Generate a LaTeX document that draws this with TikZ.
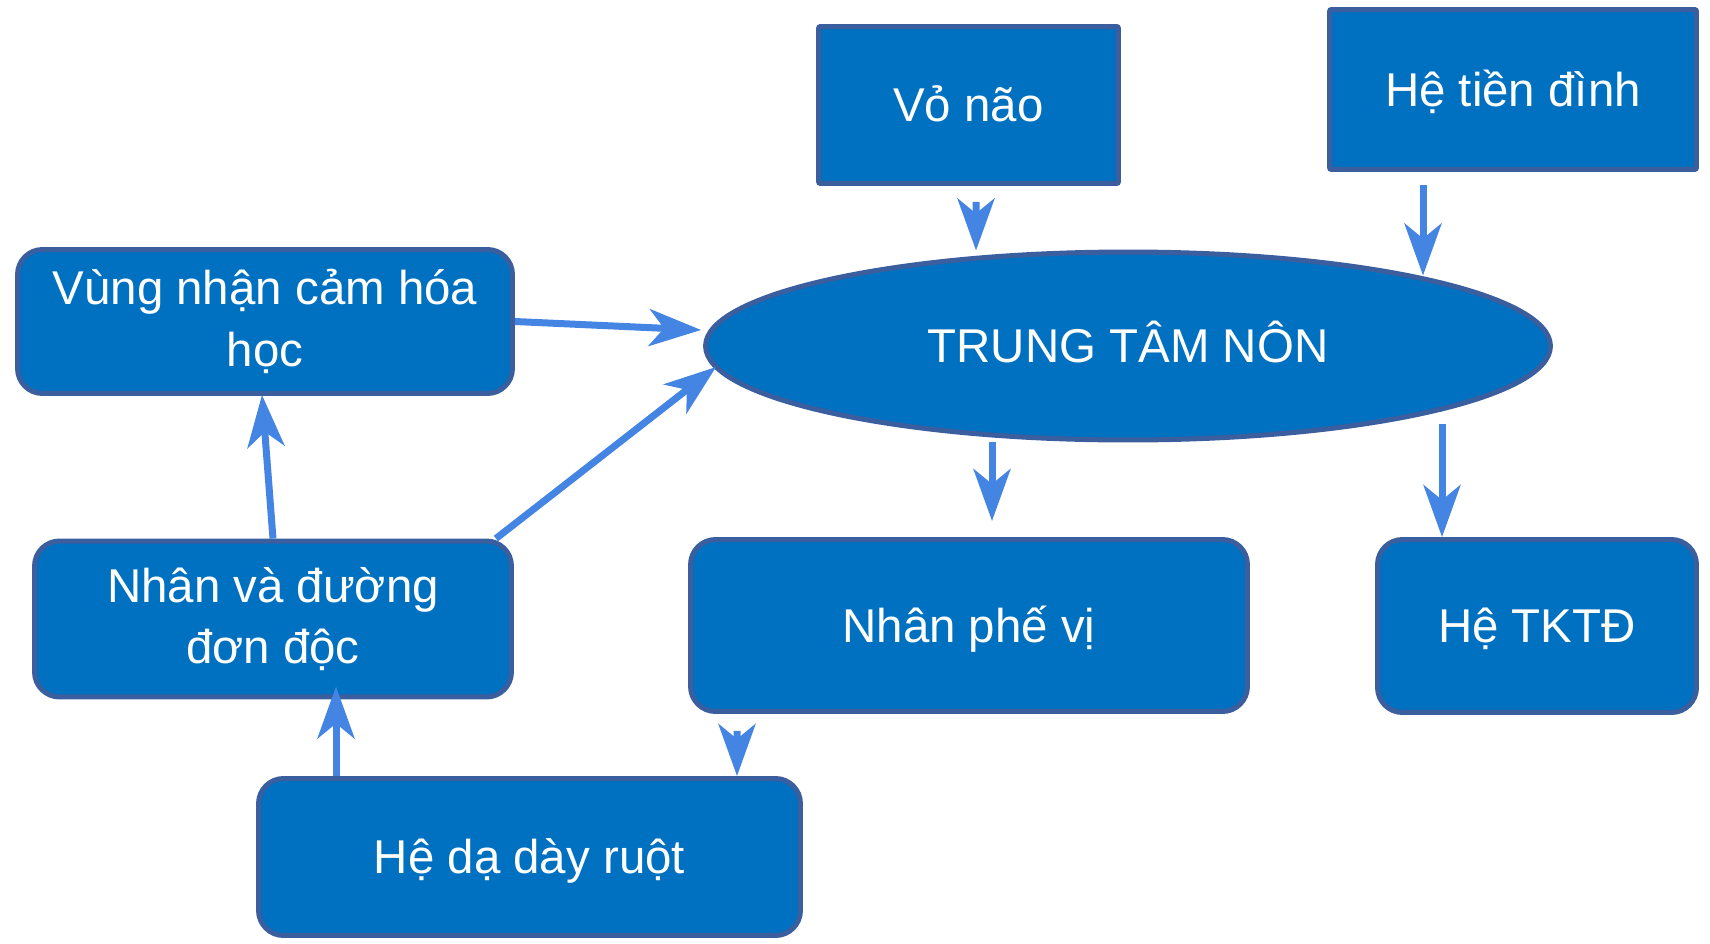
\documentclass[tikz,border=0pt]{standalone}
\usepackage{fontspec}
\setmainfont{Liberation Sans}
\usetikzlibrary{calc,arrows.meta,shapes.geometric}
\definecolor{boxfill}{RGB}{0,112,192}
\definecolor{boxline}{RGB}{59,94,158}
\definecolor{arrowblue}{RGB}{68,132,226}

\begin{document}
\begin{tikzpicture}[x=0.02cm,y=-0.02cm,
  box/.style={draw=boxline,fill=boxfill,line width=0.1cm,text=white,align=center,inner sep=0pt,
    font=\fontsize{27}{35}\selectfont},
  oneline/.style={text height=19.3pt,text depth=0pt},
  rbox/.style={box,rounded corners=0.5cm},
  flow/.style={draw=arrowblue,line width=0.14cm,-{Stealth[length=1.04cm,width=0.74cm,inset=0.3cm]}}]

\useasboundingbox (0,0) rectangle (1710,943);

\node[box,oneline,rounded corners=0.04cm,minimum width=6cm,minimum height=3.14cm] (vonao) at (968.5,105) {Vỏ não};
\node[box,oneline,rounded corners=0.04cm,minimum width=7.34cm,minimum height=3.2cm] (tiendinh) at (1513,89.5) {Hệ tiền đình};
\node[rbox,minimum width=9.9cm,minimum height=2.88cm] (vung) at (265,321.5) {Vùng nhận cảm hóa\\học};
\node[box,oneline,ellipse,minimum width=16.9cm,minimum height=3.76cm] (trungtam) at (1128,346) {TRUNG TÂM NÔN};
\node[rbox,minimum width=9.54cm,minimum height=3.12cm] (nhandon) at (273,619) {Nhân và đường\\đơn độc};
\node[rbox,oneline,minimum width=11.14cm,minimum height=3.44cm] (phevi) at (969,625.5) {Nhân phế vị};
\node[rbox,oneline,minimum width=6.38cm,minimum height=3.46cm] (tktd) at (1537,626) {Hệ TKTĐ};
\node[rbox,oneline,minimum width=10.84cm,minimum height=3.14cm] (daday) at (529.5,857) {Hệ dạ dày ruột};

\draw[flow] ($(vonao.south)+(7.5,16)$) -- ($(trungtam.north)+(-152,1)$);
\draw[flow] ($(tiendinh.south)+(-90,13)$) -- ($(trungtam.north)+(295,26)$);
\draw[flow] (vung.east) -- ($(trungtam.west)+(-2,-16)$);
\draw[flow] ($(nhandon.north east)+(-18,0)$) -- ($(trungtam.west)+(13,21)$);
\draw[flow] (nhandon.north) -- ($(vung.south)+(-3,-1)$);
\draw[flow] ($(daday.north)+(-193.5,0)$) -- ($(nhandon.south)+(63,-13)$);
\draw[flow] ($(trungtam.south)+(-136,0)$) -- ($(phevi.north)+(23,-16)$);
\draw[flow] ($(trungtam.south)+(314,-18)$) -- ($(tktd.north)+(-95,0)$);
\draw[flow] ($(phevi.south)+(-232,17)$) -- ($(daday.north)+(207.5,0)$);

\end{tikzpicture}
\end{document}
